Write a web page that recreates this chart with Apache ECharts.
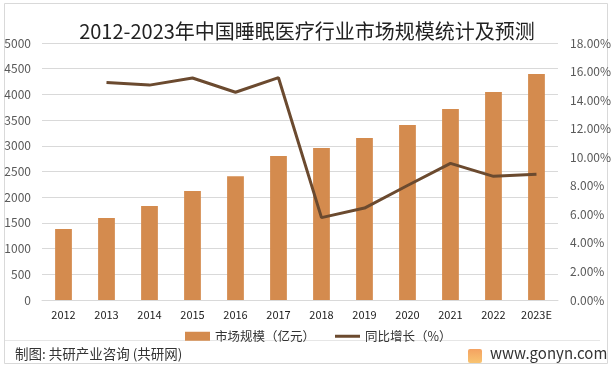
<!DOCTYPE html>
<html>
<head>
<meta charset="utf-8">
<script src="https://cdn.jsdelivr.net/npm/echarts@6/dist/echarts.min.js"></script>
<style>
html,body{margin:0;padding:0;background:#fff;}
#c{width:614px;height:368px;}
</style>
</head>
<body>
<div id="c"></div>
<script>
const categories = ['2012','2013','2014','2015','2016','2017','2018','2019','2020','2021','2022','2023E'];
const marketSize = [1380,1595,1830,2120,2410,2800,2955,3150,3405,3715,4045,4395];
const growth = [null,15.24,15.05,15.55,14.55,15.57,5.77,6.44,8.02,9.57,8.66,8.80];
const leftTicks = [0,500,1000,1500,2000,2500,3000,3500,4000,4500,5000];
const rightTicks = [0,2,4,6,8,10,12,14,16,18];

const font = '"Noto Sans CJK SC", "Noto Sans", sans-serif';
const chart = echarts.init(document.getElementById('c'), null, {renderer:'canvas'});
chart.setOption({
  animation:false,
  backgroundColor:'#fff',
  title:{
    text:'2012-2023年中国睡眠医疗行业市场规模统计及预测',
    left:'center', top:16,
    textStyle:{fontFamily:font, fontSize:20, fontWeight:'normal', color:'#222'}
  },
  grid:{left:42, right:54, top:43, bottom:68},
  legend:{
    left:180, top:325, itemGap:20, itemWidth:25, itemHeight:9,
    textStyle:{fontFamily:font, fontSize:12.5, color:'#333'},
    data:[{name:'市场规模（亿元）', icon:'rect'},{name:'同比增长（%）', icon:'path://M0,0L25,0L25,3L0,3Z'}]
  },
  xAxis:{
    type:'category', data:categories,
    axisLine:{lineStyle:{color:'#d9d9d9'}},
    axisTick:{show:false},
    axisLabel:{fontFamily:font, fontSize:11, color:'#222', margin:9, interval:0}
  },
  yAxis:[{
    type:'value', min:leftTicks[0], max:leftTicks[leftTicks.length-1], interval:500,
    axisLine:{show:false}, axisTick:{show:false},
    splitLine:{lineStyle:{color:'#d9d9d9', width:1}},
    axisLabel:{fontFamily:font, fontSize:12, color:'#595959', margin:11, formatter:v=>String(v)}
  },{
    type:'value', min:rightTicks[0], max:rightTicks[rightTicks.length-1], interval:2,
    axisLine:{show:false}, axisTick:{show:false}, splitLine:{show:false},
    axisLabel:{fontFamily:font, fontSize:12, color:'#595959', margin:12,
      formatter:v=>v.toFixed(2)+'%'}
  }],
  series:[{
    name:'市场规模（亿元）', type:'bar', data:marketSize, barWidth:'39%',
    itemStyle:{color:'#d48b4e'}
  },{
    name:'同比增长（%）', type:'line', yAxisIndex:1, data:growth,
    symbol:'none', lineStyle:{color:'#6b4a2f', width:3}, itemStyle:{color:'#6b4a2f'}
  }],
  graphic:[
    {type:'rect', shape:{x:4.5,y:3.5,width:603,height:360}, style:{fill:'none', stroke:'#d9d9d9', lineWidth:1}, silent:true},
    {type:'line', shape:{x1:5,y1:340.5,x2:600,y2:340.5}, style:{stroke:'#e6e6e6', lineWidth:1}},
    {type:'text', left:15, top:347, style:{text:'制图: 共研产业咨询 (共研网)', fontFamily:font, fontSize:13.5, fill:'#333'}},
    {type:'rect', shape:{x:468,y:349,width:14,height:14, r:2}, style:{fill:{type:'linear',x:0,y:0,x2:0,y2:1,colorStops:[{offset:0,color:'#f4a261'},{offset:1,color:'#f8c471'}]}}},
    {type:'text', left:490, top:346, style:{text:'www.gonyn.com', fontFamily:font, fontSize:15, fill:'#333'}}
  ]
});
</script>
</body>
</html>
